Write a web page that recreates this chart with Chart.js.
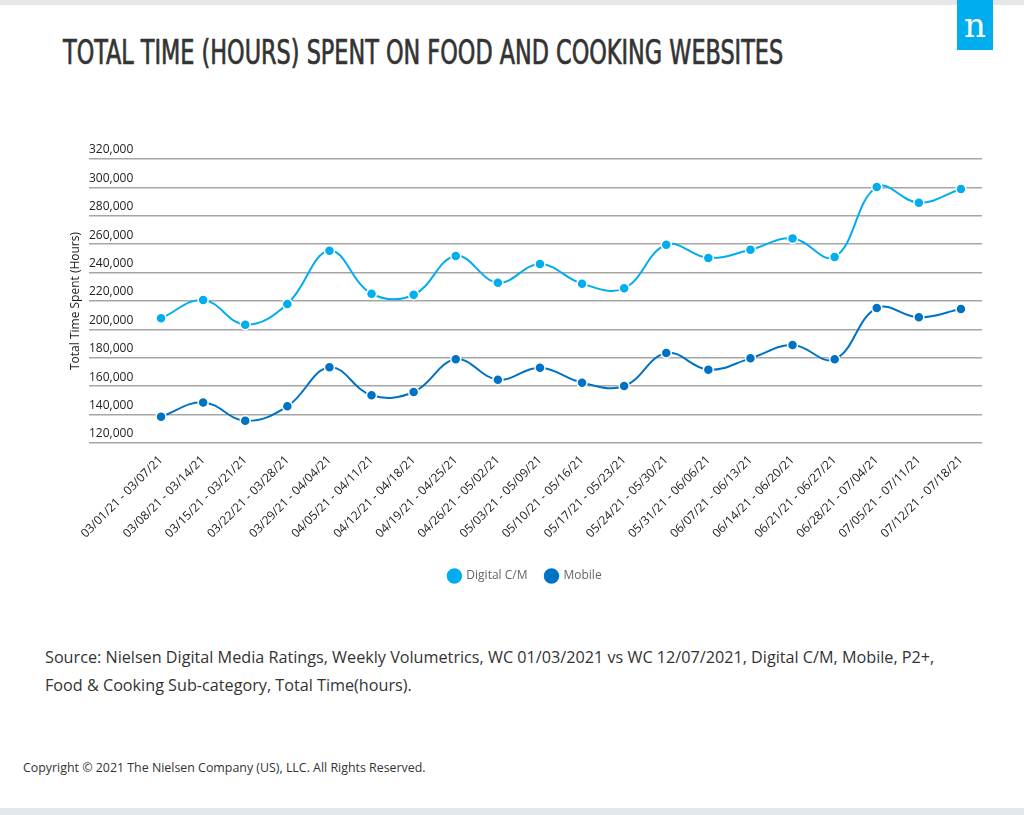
<!DOCTYPE html>
<html>
<head>
<meta charset="utf-8">
<script src="https://cdn.jsdelivr.net/npm/chart.js@4.4.0/dist/chart.umd.min.js"></script>
<style>
  html, body { margin: 0; padding: 0; background: #fff; }
  body { width: 1024px; height: 815px; position: relative; overflow: hidden; font-family: "Open Sans", sans-serif; }
  .band { position: absolute; left: 0; width: 1024px; background: #e4e7ea; }
  #logo { position: absolute; left: 957px; top: 0; width: 36px; height: 50px; background: #00aeef; color: #fff;
          font-family: "DejaVu Serif", "Liberation Serif", serif; font-size: 34px; line-height: 50px; text-align: center; }
  #title { position: absolute; left: 63px; top: 33px; font-family: "Liberation Sans Narrow", "DejaVu Sans Condensed", sans-serif;
           font-size: 33px; color: #333; white-space: nowrap; transform-origin: left top;
           -webkit-text-stroke: 0.7px #333; }
  #wrap { position: absolute; left: 0; top: 120px; width: 1024px; height: 490px; }
  #source { position: absolute; left: 45px; top: 643px; width: 900px; font-size: 16.2px; line-height: 28px; color: #333; }
  #copy { position: absolute; left: 23px; top: 759px; font-size: 12.4px; color: #333; }
</style>
</head>
<body>
<div class="band" style="top:0;height:5px"></div>
<div class="band" style="top:808px;height:7px"></div>
<div id="logo">n</div>
<div id="title">TOTAL TIME (HOURS) SPENT ON FOOD AND COOKING WEBSITES</div>
<div id="wrap"><canvas id="myChart"></canvas></div>
<div id="source">Source: Nielsen Digital Media Ratings, Weekly Volumetrics, WC 01/03/2021 vs WC 12/07/2021, Digital C/M, Mobile, P2+, Food &amp; Cooking Sub-category, Total Time(hours).</div>
<div id="copy">Copyright © 2021 The Nielsen Company (US), LLC. All Rights Reserved.</div>
<script>
(() => {
  'use strict'

  const weeks = [
    '03/01/21 - 03/07/21', '03/08/21 - 03/14/21', '03/15/21 - 03/21/21', '03/22/21 - 03/28/21',
    '03/29/21 - 04/04/21', '04/05/21 - 04/11/21', '04/12/21 - 04/18/21', '04/19/21 - 04/25/21',
    '04/26/21 - 05/02/21', '05/03/21 - 05/09/21', '05/10/21 - 05/16/21', '05/17/21 - 05/23/21',
    '05/24/21 - 05/30/21', '05/31/21 - 06/06/21', '06/07/21 - 06/13/21', '06/14/21 - 06/20/21',
    '06/21/21 - 06/27/21', '06/28/21 - 07/04/21', '07/05/21 - 07/11/21', '07/12/21 - 07/18/21'
  ]
  const digitalCM = [207800, 220700, 203300, 217900, 255400, 225100, 224400, 251700, 232900, 246000,
    232200, 228900, 259600, 250300, 256100, 264100, 251000, 300300, 289200, 298900]
  const mobile = [138500, 148600, 135700, 145800, 173300, 153600, 155900, 178900, 164600, 173000,
    162500, 160100, 183400, 171600, 179600, 189000, 178900, 215000, 208500, 214300]
  const yTicks = [120000, 140000, 160000, 180000, 200000, 220000, 240000, 260000, 280000, 300000, 320000]

  // squeeze the title to the reference width
  const title = document.getElementById('title')
  title.style.transform = 'scaleX(' + (720 / title.offsetWidth) + ')'

  const series = (label, data, color) => ({
    label: label,
    data: data,
    borderColor: color,
    backgroundColor: color,
    pointBackgroundColor: color,
    pointBorderColor: '#fff',
    pointBorderWidth: 1.5,
    pointRadius: 5,
    borderWidth: 2,
    tension: 0.4
  })

  const ctx = document.getElementById('myChart')
  // eslint-disable-next-line no-unused-vars
  const myChart = new Chart(ctx, {
    type: 'line',
    data: {
      labels: weeks,
      datasets: [
        series('Digital C/M', digitalCM, '#00aeef'),
        series('Mobile', mobile, '#0072c6')
      ]
    },
    options: {
      responsive: true,
      maintainAspectRatio: false,
      animation: false,
      layout: { padding: { left: 68, right: 42, top: 39, bottom: 18 } },
      scales: {
        x: {
          offset: true,
          grid: { display: false },
          border: { display: false },
          afterFit: scale => { scale.height = 109 },
          ticks: {
            minRotation: 45,
            maxRotation: 45,
            autoSkip: false,
            color: '#222',
            padding: 2,
            font: { family: 'Open Sans', size: 12 }
          }
        },
        y: {
          min: 120000,
          max: 320000,
          afterFit: scale => { scale.width = 72 },
          afterBuildTicks: scale => { scale.ticks = yTicks.map(v => ({ value: v })) },
          border: { display: false },
          grid: { color: '#a6a6a6', lineWidth: 1.5, tickLength: 51, drawTicks: true },
          title: {
            display: true,
            text: 'Total Time Spent (Hours)',
            color: '#222',
            padding: 0,
            font: { family: 'Open Sans', size: 12 }
          },
          ticks: {
            mirror: true,
            padding: -51,
            labelOffset: -9,
            color: '#222',
            font: { family: 'Open Sans', size: 12 },
            callback: v => v.toLocaleString('en-US')
          }
        }
      },
      plugins: {
        legend: {
          position: 'bottom',
          labels: {
            usePointStyle: true,
            pointStyle: 'circle',
            boxWidth: 14,
            boxHeight: 13,
            color: '#666',
            padding: 18,
            font: { family: 'Open Sans', size: 12 }
          }
        },
        tooltip: { enabled: false }
      }
    }
  })
})()
</script>
</body>
</html>
